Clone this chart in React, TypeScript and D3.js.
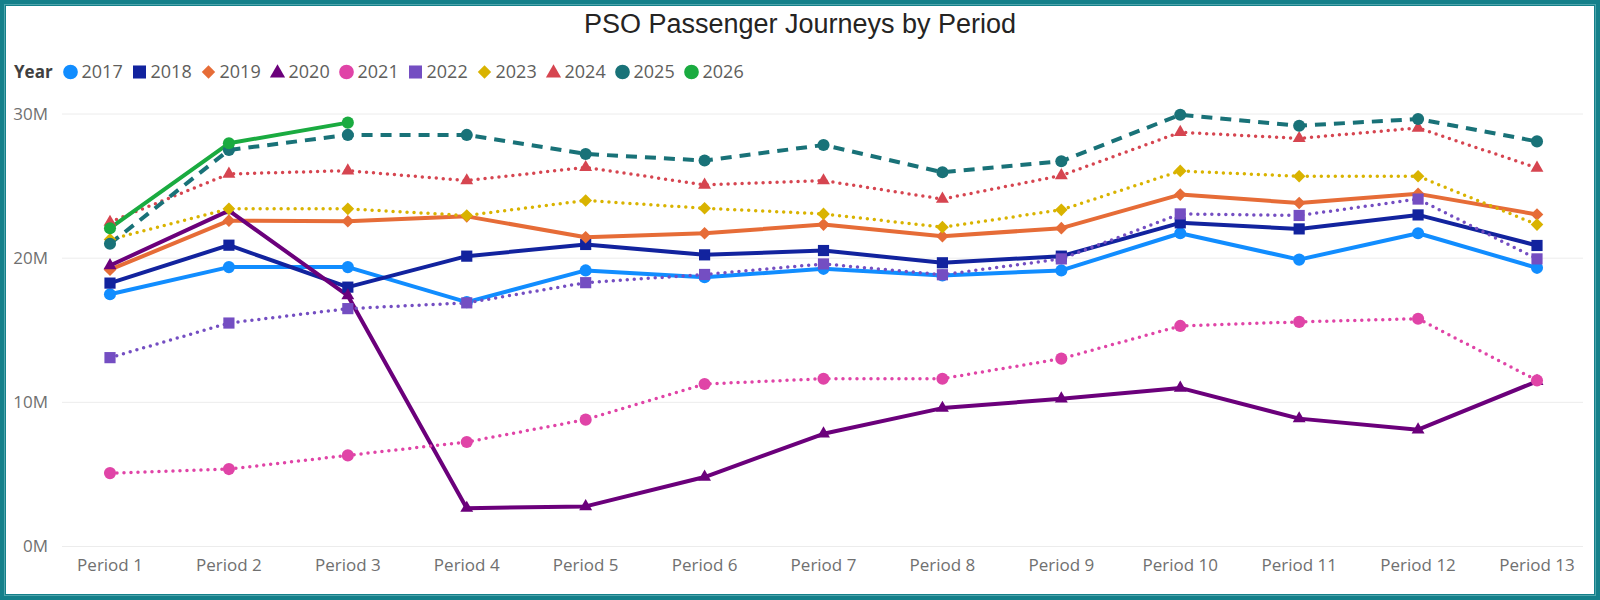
import React from "react";
import * as d3 from "d3";

const periods = ["Period 1","Period 2","Period 3","Period 4","Period 5","Period 6","Period 7","Period 8","Period 9","Period 10","Period 11","Period 12","Period 13"];
const years = ["2017","2018","2019","2020","2021","2022","2023","2024","2025","2026"];
const yTicks = [0, 10, 20, 30];

const v2017 = [17.5, 19.38, 19.38, 16.95, 19.15, 18.68, 19.26, 18.8, 19.15, 21.73, 19.9, 21.73, 19.33];
const v2018 = [18.27, 20.9, 17.99, 20.14, 20.95, 20.23, 20.53, 19.68, 20.14, 22.45, 22.03, 23.0, 20.88];
const v2019 = [19.2, 22.6, 22.56, 22.9, 21.45, 21.73, 22.33, 21.52, 22.08, 24.41, 23.83, 24.46, 23.03];
const v2020 = [19.49, 23.3, 17.4, 2.66, 2.78, 4.82, 7.82, 9.6, 10.25, 11.0, 8.87, 8.1, 11.46];
const v2021 = [5.09, 5.37, 6.32, 7.25, 8.8, 11.27, 11.64, 11.64, 13.03, 15.3, 15.58, 15.8, 11.52];
const v2022 = [13.1, 15.5, 16.5, 16.9, 18.3, 18.87, 19.6, 18.85, 19.95, 23.07, 22.96, 24.1, 19.95];
const v2023 = [21.3, 23.42, 23.42, 22.96, 24.0, 23.46, 23.07, 22.15, 23.35, 26.05, 25.68, 25.68, 22.33];
const v2024 = [22.5, 25.84, 26.07, 25.38, 26.3, 25.08, 25.38, 24.1, 25.73, 28.73, 28.31, 29.03, 26.26];
const v2025 = [21.0, 27.5, 28.55, 28.55, 27.23, 26.77, 27.85, 25.96, 26.72, 29.95, 29.19, 29.65, 28.1];
const v2026 = [22.08, 27.97, 29.4];

const seriesValues = [v2017, v2018, v2019, v2020, v2021, v2022, v2023, v2024, v2025, v2026];
const colors = ["#118DFF","#12239E","#E66C37","#6B007B","#E044A7","#744EC2","#D9B300","#D64550","#197278","#1AAB40"];
const shapes = ["circle","square","diamond","triangle","circle","square","diamond","triangle","circle","circle"];
const styles = ["solid","solid","solid","solid","dotted","dotted","dotted","dotted","dashed","solid"];

const W = 1600, H = 600;
const FONT = "'Segoe UI', 'Open Sans', 'Noto Sans', sans-serif";

function symbolPath(shape: string, size: number) {
  if (shape === "circle") return d3.symbol(d3.symbolCircle, size)()!;
  if (shape === "square") return d3.symbol(d3.symbolSquare, size)()!;
  if (shape === "diamond") return d3.symbol(d3.symbolSquare, size)()!;
  return d3.symbol(d3.symbolTriangle, size)()!;
}
function markerSize(shape: string) {
  if (shape === "circle") return 115;
  if (shape === "square") return 125;
  if (shape === "diamond") return 80;
  return 72;
}

export default function App() {
  const x = d3.scalePoint<string>().domain(periods).range([110, 1537]);
  const y = d3.scaleLinear().domain([0, 30]).range([546.5, 114]);
  const line = d3.line<number>().x((_, i) => x(periods[i])!).y((d) => y(d));

  return (
    <svg width={W} height={H} style={{ position: "absolute", left: 0, top: 0, background: "#fff" }} fontFamily={FONT}>
      <rect x={0} y={0} width={W} height={H} fill="#fff" />
      {yTicks.map((t) => (
        <g key={t}>
          <line x1={62} x2={1583} y1={y(t)} y2={y(t)} stroke="#ececec" strokeWidth={1} />
          <text x={48} y={y(t)} dy="0.35em" textAnchor="end" fontSize={17} fill="#707070">{t + "M"}</text>
        </g>
      ))}
      {periods.map((p) => (
        <text key={p} x={x(p)} y={571} textAnchor="middle" fontSize={17} fill="#707070">{p}</text>
      ))}
      {seriesValues.map((vals, si) => {
        const st = styles[si];
        const dash = st === "dotted" ? "0 7" : st === "dashed" ? "11 8" : undefined;
        return (
          <path key={"l" + si} d={line(vals)!} fill="none" stroke={colors[si]}
            strokeWidth={st === "dotted" ? 3.5 : 4}
            strokeDasharray={dash}
            strokeLinecap={st === "dotted" ? "round" : "butt"}
            strokeLinejoin="round" />
        );
      })}
      {seriesValues.map((vals, si) => (
        <g key={"m" + si} fill={colors[si]}>
          {vals.map((v, i) => (
            <path key={i} d={symbolPath(shapes[si], markerSize(shapes[si]))}
              transform={`translate(${x(periods[i])},${y(v)})${shapes[si] === "diamond" ? " rotate(45)" : ""}`} />
          ))}
        </g>
      ))}
      <text x={800} y={33} textAnchor="middle" fontSize={27} fill="#252423" fontFamily="'Liberation Sans', Arial, sans-serif">PSO Passenger Journeys by Period</text>
      <text x={14} y={72} dy="0.35em" fontSize={17} fontWeight="bold" fill="#404040">Year</text>
      {years.map((yr, i) => {
        const sx = 63 + i * 69;
        const sh = shapes[i];
        const sz = sh === "circle" ? 170 : sh === "square" ? 170 : sh === "diamond" ? 90 : 100;
        return (
          <g key={yr}>
            <path d={symbolPath(sh, sz)} fill={colors[i]}
              transform={`translate(${sx + 7.5},${sh === "triangle" ? 73 : 72})${sh === "diamond" ? " rotate(45)" : ""}`} />
            <text x={sx + 18.5} y={72} dy="0.35em" fontSize={18} fill="#605E5C">{yr}</text>
          </g>
        );
      })}
      <rect x={3} y={3} width={W - 6} height={H - 6} fill="none" stroke="#15808A" strokeWidth={6} />
      <rect x={4.5} y={4.5} width={W - 9} height={H - 9} fill="none" stroke="#4FA5AC" strokeWidth={1} />
    </svg>
  );
}
